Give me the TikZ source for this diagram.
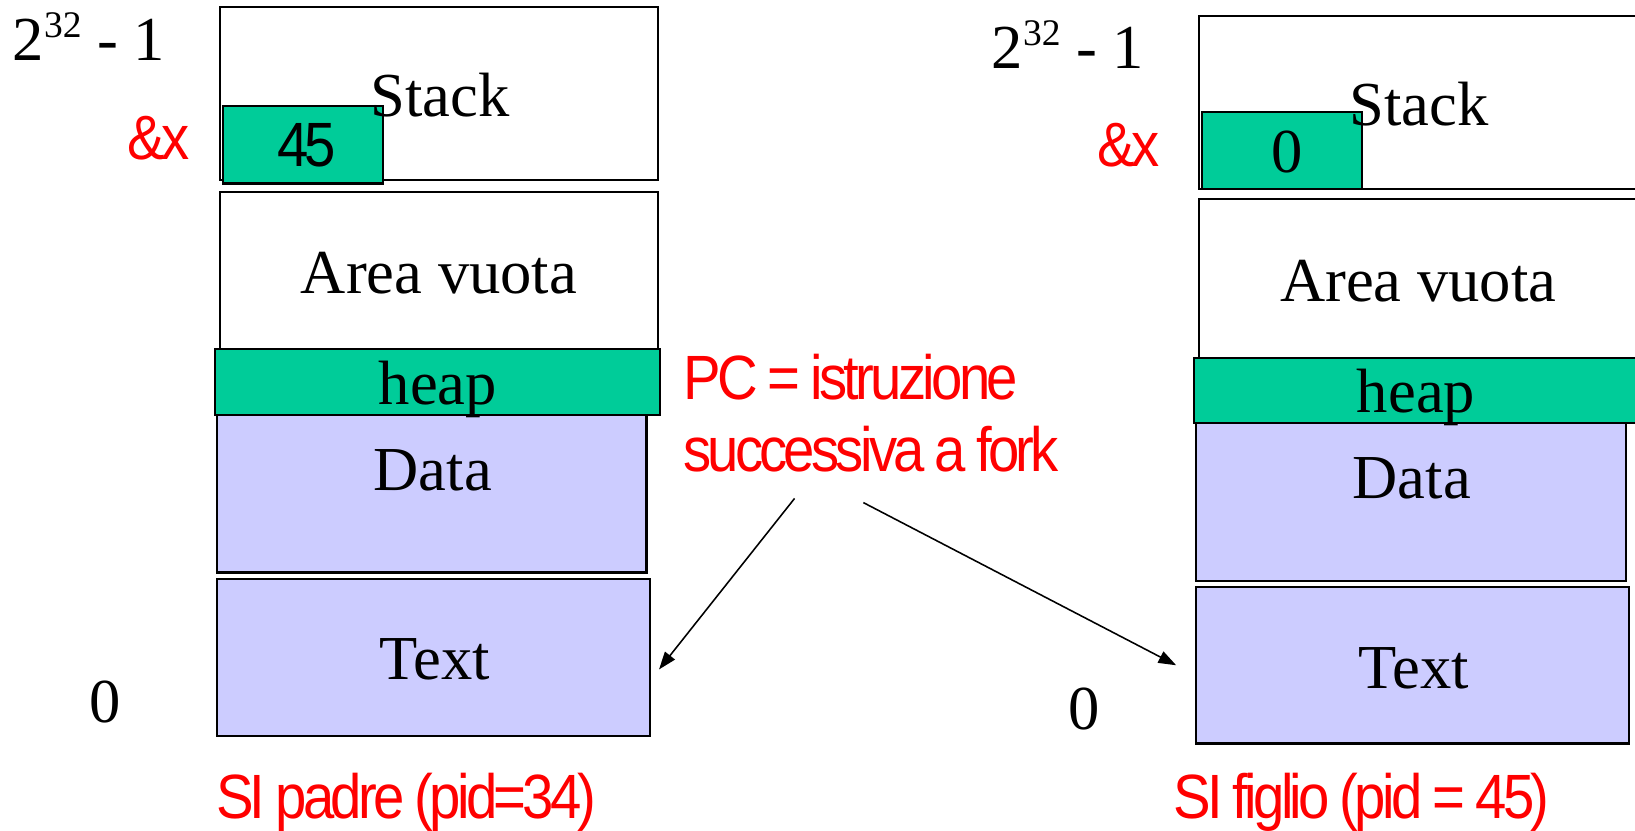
\documentclass[tikz,border=0pt]{standalone}
\usepackage{fontspec}
\setmainfont{Liberation Serif}
\newfontfamily\condsans[FakeStretch=0.9,LetterSpace=-6,WordSpace=0.85]{Liberation Sans}
\usetikzlibrary{arrows.meta}
\definecolor{segGreen}{HTML}{00CC99}
\definecolor{segBlue}{HTML}{CCCCFF}
\definecolor{labelRed}{HTML}{FF0000}
\newcommand\bigserif{\fontsize{60}{72}\selectfont}
\newcommand\bigsans{\condsans\fontsize{60}{69}\selectfont}
\newcommand\addrtop{2\raisebox{22pt}{\fontsize{36}{36}\selectfont 32} - 1}

\begin{document}
\begin{tikzpicture}[x=1pt,y=-1pt,
  seg/.style={draw=black, line width=2pt, anchor=north west, inner sep=0pt, outer sep=0pt},
  white seg/.style={seg, fill=white},
  green seg/.style={seg, fill=segGreen},
  blue seg/.style={seg, fill=segBlue},
  lbl/.style={inner sep=0pt, anchor=base, font=\bigserif},
  redlbl/.style={inner sep=0pt, text=labelRed, font=\bigsans},
  pcarrow/.style={line width=1.5pt, -{Triangle[length=17pt,width=12pt]}}
]
\useasboundingbox (0,0) rectangle (1568,796);

% ---- parent address space ----
\node[white seg, minimum width=420, minimum height=166] (stackL) at (211,7) {};
\node[green seg, minimum width=153, minimum height=74] (cellL) at (214,102) {};
\node[white seg, minimum width=420, minimum height=151] (emptyL) at (211,184) {};
\node[blue seg, minimum width=412, minimum height=151] (dataL) at (208,398) {};
\node[green seg, minimum width=427, minimum height=63] (heapL) at (206,335) {};
\node[blue seg, minimum width=415, minimum height=151] (textL) at (208,555) {};

\node[lbl] (stackLblL) at (422,112) {Stack};
\node[inner sep=0pt, anchor=base, font=\bigsans] (valL) at (294,160) {45};
\node[lbl] (emptyLblL) at (421,281) {Area vuota};
\node[lbl] (heapLblL) at (420,388) {heap};
\node[lbl] (dataLblL) at (415,470) {Data};
\node[lbl] (textLblL) at (417,652) {Text};
\node[lbl, anchor=base west] (topL) at (12,58) {\addrtop};
\node[lbl] (zeroL) at (101,693) {0};
\node[redlbl, anchor=base east] (addrL) at (182,153) {\&x};
\node[redlbl, anchor=base west] (nameL) at (207,785) {SI padre (pid=34)};

% ---- child address space ----
\node[white seg, minimum width=420, minimum height=166] (stackR) at (1150,15) {};
\node[green seg, minimum width=153, minimum height=74] (cellR) at (1153,107) {};
\node[white seg, minimum width=420, minimum height=152] (emptyR) at (1150,191) {};
\node[blue seg, minimum width=412, minimum height=151] (dataR) at (1147,406) {};
\node[green seg, minimum width=427, minimum height=63] (heapR) at (1145,343) {};
\node[blue seg, minimum width=415, minimum height=150] (textR) at (1147,563) {};

\node[lbl] (stackLblR) at (1361,120) {Stack};
\node[lbl] (valR) at (1234,165) {0};
\node[lbl] (emptyLblR) at (1360,289) {Area vuota};
\node[lbl] (heapLblR) at (1358,396) {heap};
\node[lbl] (dataLblR) at (1354,478) {Data};
\node[lbl] (textLblR) at (1356,660) {Text};
\node[lbl, anchor=base west] (topR) at (951,66) {\addrtop};
\node[lbl] (zeroR) at (1040,700) {0};
\node[redlbl, anchor=base east] (addrR) at (1112,160) {\&x};
\node[redlbl, anchor=base west] (nameR) at (1125,785) {SI figlio (pid = 45)};

% ---- program counter note ----
\node[redlbl, anchor=base west] (pcA) at (655,383) {PC = istruzione};
\node[redlbl, anchor=base west] (pcB) at (655,452) {successiva a fork};

\coordinate (pcFromL) at (762,478);
\coordinate (pcFromR) at (828,482);
\coordinate (pcToL) at (632,642);
\coordinate (pcToR) at (1128,638);
\draw[pcarrow] (pcFromL) -- (pcToL);
\draw[pcarrow] (pcFromR) -- (pcToR);
\end{tikzpicture}
\end{document}
